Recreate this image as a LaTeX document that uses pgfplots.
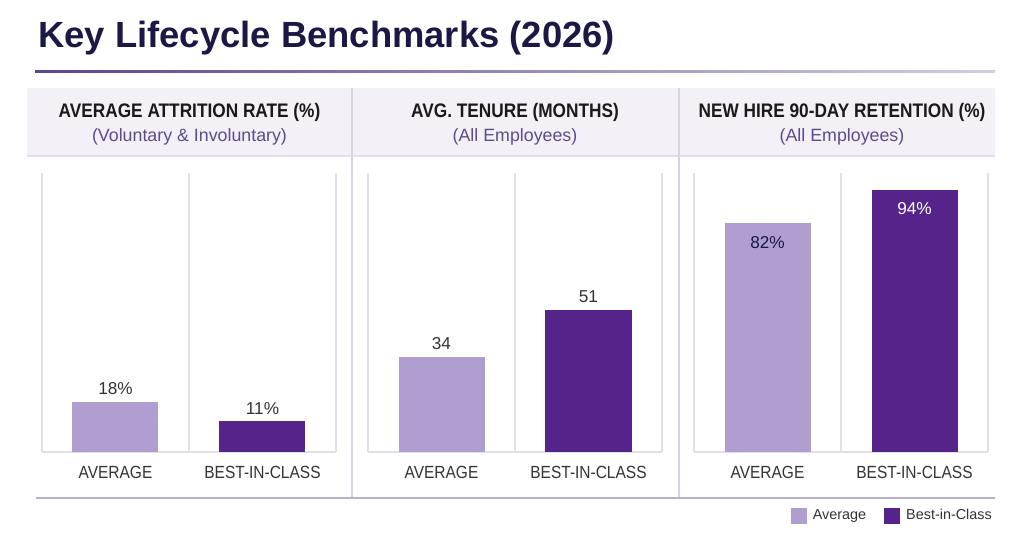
\documentclass[border=0pt]{standalone}
\usepackage{fontspec}
\setmainfont{Liberation Sans}
\newfontfamily\condfont[FakeStretch=0.88]{Liberation Sans}
\usepackage{pgfplots}
\pgfplotsset{compat=1.18}

\definecolor{titc}{HTML}{1C1845}
\definecolor{rulea}{HTML}{5A4590}
\definecolor{ruleb}{HTML}{D4CCE4}
\definecolor{bandc}{HTML}{F3F0F8}
\definecolor{bandl}{HTML}{E2DDEC}
\definecolor{divc}{HTML}{D8D3E3}
\definecolor{gridc}{HTML}{E2E0E6}
\definecolor{hdrc}{HTML}{1A1A1A}
\definecolor{subc}{HTML}{5E4B8B}
\definecolor{labc}{HTML}{333333}
\definecolor{avgc}{HTML}{B09ED0}
\definecolor{bestc}{HTML}{55248A}
\definecolor{botc}{HTML}{B8B2C8}

\pgfplotsset{
  /pgf/number format/assume math mode=true,
  panel/.style={
    scale only axis, width=147pt, height=139.5pt,
    anchor=south west,
    xmin=-0.5, xmax=1.5, ymin=0, ymax=100,
    axis line style={draw=none},
    major tick length=0pt,
    xtick={-0.5,0.5,1.5}, xticklabels={}, xmajorgrids,
    ytick={0}, yticklabels={}, ymajorgrids,
    grid style={gridc, line width=0.6pt},
    extra x ticks={0,1}, extra x tick labels={AVERAGE,BEST-IN-CLASS},
    extra x tick style={xmajorgrids=false,
      tick label style={font=\condfont\fontsize{8.8}{10}\selectfont, text=labc, yshift=-3.5pt}},
    ybar, bar width=43pt, bar shift=0pt,
    nodes near coords style={font=\fontsize{8.6}{10}\selectfont, text=labc},
    clip=false,
  },
}

\begin{document}
\begin{tikzpicture}
% page frame, 1px = 0.5pt
\fill[white] (0pt,0pt) rectangle (512pt,274pt);

\node[anchor=base west, text=titc, font=\bfseries\fontsize{18.2}{20}\selectfont, inner sep=0pt]
  at (19pt,250.5pt) {Key Lifecycle Benchmarks (2026)};
\shade[left color=rulea, right color=ruleb] (17.5pt,238pt) rectangle (497.5pt,239pt);

% header band
\fill[bandc] (13.5pt,230pt) rectangle (497.5pt,196pt);
\draw[bandl, line width=0.6pt] (13.5pt,196pt) -- (497.5pt,196pt);
\draw[divc, line width=0.6pt] (176pt,230pt) -- (176pt,25pt);
\draw[divc, line width=0.6pt] (339.5pt,230pt) -- (339.5pt,25pt);

\begin{scope}[every node/.style={anchor=base, inner sep=0pt}]
\node[font=\condfont\bfseries\fontsize{9.8}{11}\selectfont, text=hdrc] at (94.75pt,215.5pt) {AVERAGE ATTRITION RATE (\%)};
\node[font=\fontsize{8.9}{10}\selectfont, text=subc] at (94.75pt,203.5pt) {(Voluntary \& Involuntary)};
\node[font=\condfont\bfseries\fontsize{9.8}{11}\selectfont, text=hdrc] at (257.5pt,215.5pt) {AVG. TENURE (MONTHS)};
\node[font=\fontsize{8.9}{10}\selectfont, text=subc] at (257.5pt,203.5pt) {(All Employees)};
\node[font=\condfont\bfseries\fontsize{9.8}{11}\selectfont, text=hdrc] at (421pt,215.5pt) {NEW HIRE 90-DAY RETENTION (\%)};
\node[font=\fontsize{8.9}{10}\selectfont, text=subc] at (421pt,203.5pt) {(All Employees)};
\end{scope}

\draw[botc, line width=0.8pt] (18pt,25pt) -- (497.5pt,25pt);

% panel 1
\begin{axis}[panel, at={(21pt,48pt)},
  nodes near coords={\pgfmathprintnumber{\pgfplotspointmeta}\%}]
\addplot[fill=avgc, draw=none] coordinates {(0,18)};
\addplot[fill=bestc, draw=none] coordinates {(1,11)};
\end{axis}

% panel 2
\begin{axis}[panel, at={(184pt,48pt)},
  nodes near coords={\pgfmathprintnumber{\pgfplotspointmeta}}]
\addplot[fill=avgc, draw=none] coordinates {(0,34)};
\addplot[fill=bestc, draw=none] coordinates {(1,51)};
\end{axis}

% panel 3
\begin{axis}[panel, at={(347pt,48pt)},
  nodes near coords={\pgfmathprintnumber{\pgfplotspointmeta}\%},
  every node near coord/.append style={anchor=north, yshift=-3pt},
  legend columns=2,
  legend style={at={(1.028,-0.229)}, anchor=east, draw=none, fill=none,
    font=\fontsize{7.2}{9}\selectfont, text=labc, inner sep=0pt,
    /tikz/every odd column/.append style={column sep=1pt},
    /tikz/every even column/.append style={column sep=7pt}},
  legend image code/.code={\fill[#1, draw=none] (0pt,-4pt) rectangle (8pt,4pt);}]
\addplot[fill=avgc, draw=none, nodes near coords style={text=titc}] coordinates {(0,82)};
\addplot[fill=bestc, draw=none, nodes near coords style={text=white}] coordinates {(1,94)};
\legend{Average,Best-in-Class}
\end{axis}
\end{tikzpicture}
\end{document}
